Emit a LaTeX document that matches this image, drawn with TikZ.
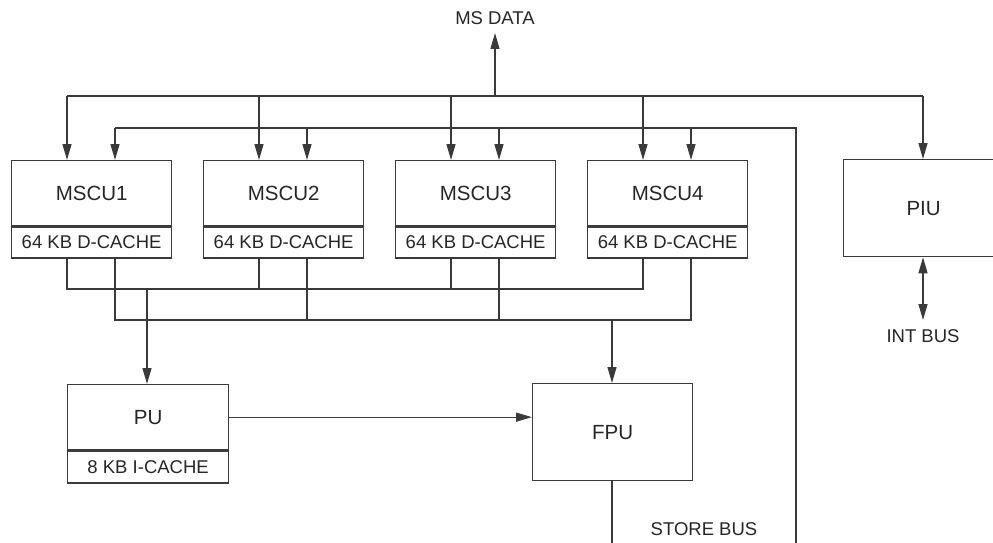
\documentclass[tikz,border=0pt]{standalone}
\usepackage{fontspec}
\setmainfont{Liberation Sans}
\usetikzlibrary{arrows.meta}
\definecolor{ink}{HTML}{3A3A3A}
\begin{document}
\begin{tikzpicture}[x=1pt,y=-1pt,
  line width=1.3pt, draw=ink, color=ink,
  arr/.style={-{Triangle[length=16pt,width=9pt]}},
  darr/.style={{Triangle[length=16pt,width=9pt]}-{Triangle[length=16pt,width=9pt]}},
  big/.style={font=\fontsize{20.5}{24}\selectfont, text=black!85},
  small/.style={font=\fontsize{18.5}{22}\selectfont, text=black!85},
  topbox/.style={draw=ink, big, minimum width=160pt, minimum height=65pt, inner sep=0pt, anchor=north west},
  cachebox/.style={draw=ink, small, minimum width=160pt, minimum height=31pt, inner sep=0pt, anchor=north},
  lbl/.style={small, inner sep=0pt}]
\useasboundingbox (0,0) rectangle (993,543);
% MSCU units
\node[topbox] (m1) at (11,160) {MSCU1};
\node[cachebox] (c1) at (m1.south) {64 KB D-CACHE};
\node[topbox] (m2) at (203,160) {MSCU2};
\node[cachebox] (c2) at (m2.south) {64 KB D-CACHE};
\node[topbox] (m3) at (395,160) {MSCU3};
\node[cachebox] (c3) at (m3.south) {64 KB D-CACHE};
\node[topbox] (m4) at (587,160) {MSCU4};
\node[cachebox] (c4) at (m4.south) {64 KB D-CACHE};
% PIU
\node[draw=ink, big, minimum width=160pt, minimum height=97pt, inner sep=0pt, anchor=north west] (piu) at (843,159) {PIU};
\node[lbl] (intbus) at (923,336) {INT BUS};
% PU
\node[draw=ink, big, minimum width=161pt, minimum height=65pt, inner sep=0pt, anchor=north west] (pu) at (67,384) {PU};
\node[draw=ink, small, minimum width=161pt, minimum height=32pt, inner sep=0pt, anchor=north] (ic) at (pu.south) {8 KB I-CACHE};
% FPU
\node[draw=ink, big, minimum width=160pt, minimum height=97pt, inner sep=0pt, anchor=north west] (fpu) at (532,383) {FPU};
% labels
\node[lbl] (msdata) at (495,18) {MS DATA};
\node[lbl] (store) at (704,529) {STORE BUS};
% top bus
\coordinate (tbL) at (67,96);
\coordinate (tbR) at (923,96);
\coordinate (tbM) at (495,96);
\draw (tbL) -- (tbR);
\draw[arr] (tbM) -- (495,33) coordinate (msd);
\foreach \x/\n in {67/m1,259/m2,451/m3,643/m4}
  \draw[arr] (\x,96) -- (\x,96 |- \n.north);
\draw[arr] (tbR) -- (tbR |- piu.north);
% second bus
\coordinate (sbL) at (115,128);
\coordinate (sbR) at (796,128);
\coordinate (sbB) at (796,545);
\draw (sbL) -- (sbR) -- (sbB);
\foreach \x/\n in {115/m1,307/m2,499/m3,691/m4}
  \draw[arr] (\x,128) -- (\x,128 |- \n.north);
% lower bus 1
\coordinate (b1L) at (67,289);
\coordinate (b1R) at (643,289);
\draw (b1L |- c1.south) -- (b1L) -- (b1R) -- (b1R |- c4.south);
\draw (259,289) -- (259,289 |- c2.south);
\draw (451,289) -- (451,289 |- c3.south);
% lower bus 2
\coordinate (b2L) at (115,320);
\coordinate (b2R) at (691,320);
\draw (b2L |- c1.south) -- (b2L) -- (b2R) -- (b2R |- c4.south);
\draw (307,320) -- (307,320 |- c2.south);
\draw (499,320) -- (499,320 |- c3.south);
% to PU and FPU
\coordinate (pd) at (147,289);
\draw[arr] (pd) -- (pd |- pu.north);
\coordinate (fd) at (612,320);
\draw[arr] (fd) -- (fd |- fpu.north);
\draw[arr] (pu.east) -- (pu.east -| fpu.west);
% store bus
\coordinate (sb) at (612,545);
\draw (fpu.south -| sb) -- (sb);
% int bus
\draw[darr] (piu.south -| intbus) -- (923,320);
\end{tikzpicture}
\end{document}
